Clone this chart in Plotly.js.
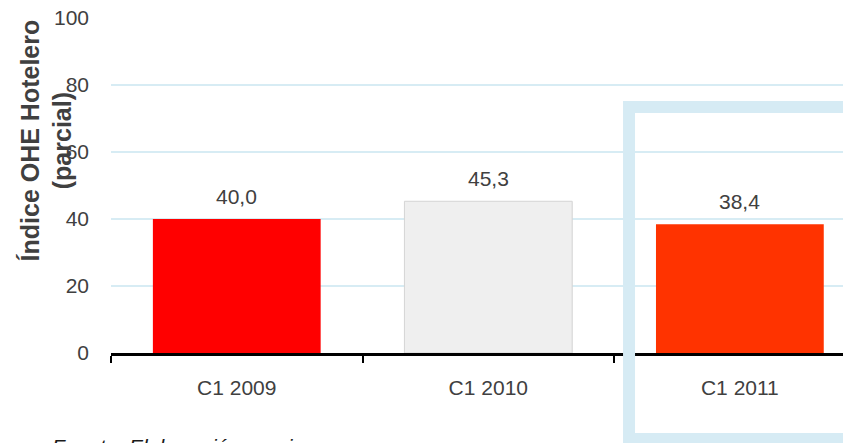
<!DOCTYPE html>
<html>
<head>
<meta charset="utf-8">
<script src="https://cdn.plot.ly/plotly-3.0.1.min.js"></script>
<style>html,body{margin:0;padding:0;background:#fff;}#chart{width:843px;height:443px;}</style>
</head>
<body>
<div id="chart"></div>
<script>
const categories = ["C1 2009", "C1 2010", "C1 2011"];
const values = [40.0, 45.3, 38.4];
const valueLabels = ["40,0", "45,3", "38,4"];
const barColors = ["#ff0000", "#efefef", "#ff3300"];
const barLineColors = ["rgba(0,0,0,0)", "#d4d4d4", "rgba(0,0,0,0)"];
const barLineWidths = [0, 1, 0];
const yTicks = [0, 20, 40, 60, 80, 100];
const yTitleLines = ["Índice OHE Hotelero", "(parcial)"];
const source = "Fuente: Elaboración propia";

const font = {family: "Liberation Sans, Arial, sans-serif", size: 21, color: "#404040"};

const trace = {
  type: "bar",
  x: categories,
  y: values,
  marker: {color: barColors, line: {color: barLineColors, width: barLineWidths}},
  hoverinfo: "none"
};

const annotations = categories.map((c, i) => ({
  x: c, y: values[i], xref: "x", yref: "y",
  text: valueLabels[i], showarrow: false,
  yanchor: "middle", xanchor: "center", yshift: 23,
  font: font
}));
annotations.push({
  xref: "paper", yref: "paper", x: -0.0881, y: 0.633,
  xanchor: "center", yanchor: "middle", textangle: -90,
  text: yTitleLines.map(t => "<b>" + t + "</b>").join("<br>"),
  showarrow: false,
  font: {family: font.family, size: 25, color: "#404040"}
});
annotations.push({
  xref: "paper", yref: "paper", x: -0.0833, y: -0.239,
  xanchor: "left", yanchor: "top", text: "<i>" + source + "</i>", showarrow: false,
  font: {family: font.family, size: 21, color: "#1a1a1a"}
});

const layout = {
  width: 843, height: 443,
  margin: {l: 111, r: 0, t: 18, b: 90, pad: 0},
  paper_bgcolor: "#ffffff", plot_bgcolor: "#ffffff",
  font: font,
  showlegend: false,
  bargap: 0.333,
  xaxis: {
    type: "category",
    range: [-0.5, 2.41],
    showline: true, linecolor: "#000000", linewidth: 3,
    tickson: "boundaries", ticks: "outside", ticklen: 7, tickwidth: 2, tickcolor: "#000000",
    showgrid: false, zeroline: false,
    ticklabelstandoff: 14,
    tickfont: font
  },
  yaxis: {
    range: [0, 100],
    tickvals: yTicks,
    ticktext: yTicks.map(String),
    showgrid: true, gridcolor: "#d7ecf4", gridwidth: 2,
    zeroline: false, showline: false, ticks: "",
    ticklabelstandoff: 21,
    tickfont: font
  },
  shapes: [{
    type: "rect", xref: "paper", yref: "paper",
    x0: 0.7077, x1: 1.06, y0: -0.257, y1: 0.734,
    line: {color: "#d6ebf4", width: 12},
    fillcolor: "rgba(0,0,0,0)", layer: "above"
  }],
  annotations: annotations
};

Plotly.newPlot("chart", [trace], layout, {displayModeBar: false, staticPlot: true});
</script>
</body>
</html>
